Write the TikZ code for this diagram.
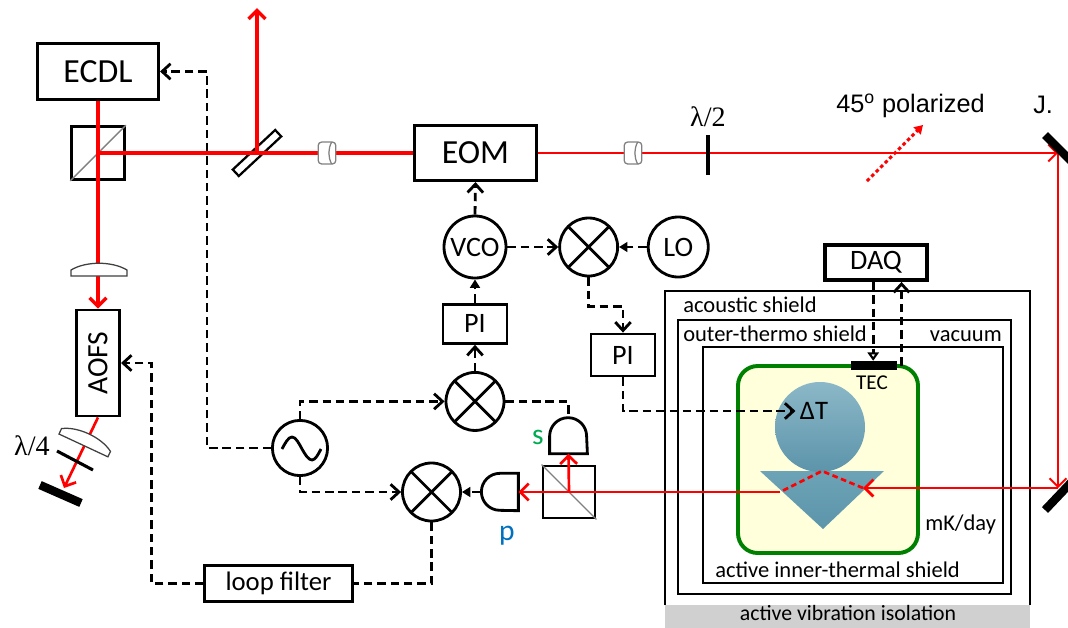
\documentclass[tikz,border=0pt]{standalone}
\usepackage{graphicx}
\usepackage{fontspec}
\setmainfont{Carlito}
\newfontfamily\arialfont{Liberation Sans}
\newfontfamily\timesfont{Liberation Serif}
\usetikzlibrary{arrows.meta}

\definecolor{laser}{RGB}{255,0,0}
\definecolor{shieldgreen}{RGB}{0,128,0}
\definecolor{cavityfill}{RGB}{255,255,220}
\definecolor{steeltop}{RGB}{140,184,200}
\definecolor{steelmid}{RGB}{108,163,182}
\definecolor{steelbot}{RGB}{92,148,170}
\definecolor{padgray}{RGB}{208,208,208}
\definecolor{sgreen}{RGB}{0,170,80}
\definecolor{pblue}{RGB}{0,112,192}

\newcommand{\fsz}[1]{\fontsize{#1}{#1}\selectfont}

\begin{document}
\begin{tikzpicture}[x=0.025cm, y=-0.025cm,
blank/.style={inner sep=0pt},
block/.style={rectangle, draw, line width=2pt, inner sep=0pt, text centered},
disc/.style={circle, draw, line width=2pt, inner sep=0pt},
mixer/.style={disc, minimum size=1.45cm, path picture={
  \draw[line width=2pt] (path picture bounding box.north west) -- (path picture bounding box.south east)
    (path picture bounding box.north east) -- (path picture bounding box.south west);}},
osc/.style={disc, minimum size=1.38cm, path picture={
  \draw[line width=2pt, shift={(path picture bounding box.center)}]
    (-18,1) sin (-8,-11) cos (2,1) sin (12,12) cos (21,1);}},
det/.style={minimum width=0.93cm, minimum height=0.92cm, inner sep=0pt},
cube/.style={rectangle, draw, line width=2pt, inner sep=0pt},
iso/.style={rectangle, rounded corners=2.5pt, draw=gray, line width=0.9pt, fill=white,
  minimum width=0.44cm, minimum height=0.55cm, inner sep=0pt, path picture={
  \draw[gray, line width=0.9pt] ([xshift=-3pt]path picture bounding box.north east)
    to[bend right=25] ([xshift=-3pt]path picture bounding box.south east);}},
beam/.style={draw=laser, line width=2.4pt},
beam-thin/.style={draw=laser, line width=1.3pt},
beam-tip/.style={-{Straight Barb[length=6pt, width=12pt]}},
ctrl/.style={line width=2pt, dash pattern=on 6pt off 3.5pt},
feed/.style={ctrl, -{Straight Barb[length=6pt, width=11pt]}},
feed-solid/.style={ctrl, -{Triangle[length=6pt, width=7pt]}},
mirror/.style={line width=6pt},
lens/.style={draw=black!75, line width=0.9pt, fill=white}
]

\useasboundingbox (0,0) rectangle (1068,627);
\clip (0,0) rectangle (1068,627);

% shields around the cavity
\fill[padgray] (665,605) rectangle (1030,640);
\draw[line width=1.9pt] (665,605) -- (665,291) -- (1030,291) -- (1030,605);
\draw[line width=1.9pt] (678,320) rectangle (1011,594);
\draw[line width=1.9pt] (703,347) rectangle (1003,583);
\draw[shieldgreen, line width=2.8pt, fill=cavityfill, rounded corners=14pt] (738,366) rectangle (918,553);
\shade[top color=steelmid, bottom color=steelbot] (760,471) -- (884,471) -- (823,529) -- cycle;
\shade[top color=steeltop, bottom color=steelbot] (820,427) circle (45);

% blocks
\node[block, minimum width=3.03cm, minimum height=1.38cm] (ecdl) at (98,71.5) {\fsz{24}ECDL};
\node[cube, minimum size=1.32cm] (pbs-in) at (98,153) {};
\node[block, minimum width=1.08cm, minimum height=2.65cm] (aofs) at (98,363) {\rotatebox{90}{\fsz{21}AOFS}};
\node[draw, line width=1.6pt, minimum width=1.45cm, minimum height=0.22cm, inner sep=0pt, rotate=43] (bs-plate) at (257,153) {};
\node[block, minimum width=3.03cm, minimum height=1.38cm] (eom) at (475.5,153) {\fsz{24}EOM};
\node[disc, minimum size=1.55cm] (vco) at (475,247) {\fsz{20}VCO};
\node[block, minimum width=1.6cm, minimum height=0.98cm, node distance=1.92cm, below of=vco] (pi-vco) {\fsz{20}PI};
\node[mixer, node distance=1.94cm, below of=pi-vco] (mix-s) {};
\node[mixer, node distance=2.84cm, right of=vco] (mix-lo) {};
\node[disc, minimum size=1.5cm, node distance=2.24cm, right of=mix-lo] (lo) {\fsz{20}LO};
\node[block, minimum width=1.6cm, minimum height=1.05cm] (pi-temp) at (623,355) {\fsz{20}PI};
\node[osc] (osc) at (300,448) {};
\node[mixer] (mix-p) at (431.5,492) {};
\node[block, minimum width=3.68cm, minimum height=0.88cm] (loop-filter) at (278.5,583.5) {\fsz{19}loop filter};
\node[det] (det-s) at (568.5,435) {};
\node[det] (det-p) at (499.5,492) {};
\node[cube, minimum size=1.3cm] (pbs-out) at (569,492) {};
\node[block, line width=2.6pt, minimum width=2.55cm, minimum height=0.88cm] (daq) at (876,262.5) {\fsz{20}DAQ};
\node[fill, minimum width=1.15cm, minimum height=0.22cm, inner sep=0pt] (tec) at (874,365.5) {};
\node[blank] (dT) at (814,411) {\fsz{19}ΔT};

\draw[gray, line width=1pt] (pbs-in.south west) -- (pbs-in.north east);
\draw[gray, line width=1pt] (pbs-out.north west) -- (pbs-out.south east);
\draw[line width=2pt] (det-s.south west) -- ++(0,-17.5) arc[start angle=180, end angle=360, radius=18.5] -- (det-s.south east) -- cycle;
\draw[line width=2pt] (det-p.north east) -- ++(-18.5,0) arc[start angle=270, end angle=90, radius=18.5] -- (det-p.south east) -- cycle;

% laser path
\coordinate (out-up) at (257,8);
\coordinate (m-top) at (1058,153);
\coordinate (m-bot) at (1058,488);
\coordinate (prism-out) at (863,488);
\coordinate (prism-tip) at (822,471);
\coordinate (prism-in) at (780,492);
\coordinate (m-aofs) at (64,488);

\draw[beam, beam-tip] (ecdl.south) -- (aofs.north);
\draw[beam, line width=2.8pt] (pbs-in.center) -- (eom.west);
\draw[beam, beam-tip] (bs-plate.center) -- (out-up);
\draw[beam-thin, beam-tip] (eom.east) -- (m-top);
\draw[beam-thin, beam-tip] (m-top) -- (m-bot);
\draw[beam, line width=1.9pt, beam-tip] (m-bot) -- (prism-out);
\draw[beam, line width=1.9pt, dash pattern=on 4pt off 2.5pt] (prism-out) -- (prism-tip) -- (prism-in);
\draw[beam, line width=1.9pt, beam-tip] (prism-in) -- (det-p.east);
\draw[beam, line width=1.9pt, beam-tip] (pbs-out.center) -- (det-s.south);
\draw[beam, line width=1.9pt, beam-tip] (aofs.south) -- (m-aofs);

% optics
\node[iso] (iso-a) at (327,153) {};
\node[iso] (iso-b) at (633,153) {};
\draw[lens] (71,276) -- (127,276) -- (127,270) .. controls (112,261) and (86,261) .. (71,270) -- cycle;
\begin{scope}[shift={(86,440)}, rotate=-25]
  \draw[lens] (-27,6) -- (27,6) -- (27,0) .. controls (13,-9) and (-13,-9) .. (-27,0) -- cycle;
\end{scope}
\draw[line width=2.8pt] (708,135) -- (708,175);
\draw[line width=2.2pt] (57,451) -- (93,470);
\draw[mirror] (40,485) -- (81,503);
\draw[mirror] (1045,135) -- (1082,172);
\draw[mirror] (1045,510) -- (1082,471);

% electronics
\draw[feed] (osc.west) -- ++(-64,0) |- (ecdl.east);
\draw[feed] (osc.north) |- (mix-s.west);
\draw[feed] (osc.south) |- (mix-p.west);
\draw[ctrl] (mix-s.east) -| (det-s.north);
\draw[feed] (mix-s.north) -- (pi-vco.south);
\draw[feed-solid] (pi-vco.north) -- (vco.south);
\draw[feed] (vco.north) -- (eom.south);
\draw[feed] (vco.east) -- (mix-lo.west);
\draw[feed-solid] (lo.west) -- (mix-lo.east);
\draw[feed] (mix-lo.south) -- ++(0,29) -| (pi-temp.north);
\draw[feed] (pi-temp.south) |- ([xshift=-3pt]dT.west);
\draw[feed-solid] (det-p.west) -- (mix-p.east);
\draw[ctrl] (mix-p.south) |- (loop-filter.east);
\draw[feed] (loop-filter.west) -- ++(-52,0) |- (aofs.east);
\coordinate (daq-l) at ([xshift=-2pt]daq.south);
\coordinate (tec-r) at ([xshift=3pt]tec.east);
\draw[ctrl, -{Triangle[open, length=6pt, width=8pt]}] (daq-l) -- (daq-l |- tec.north);
\draw[feed] (tec-r) -- (tec-r |- daq.south);

% labels
\node[blank, text=sgreen] (lbl-s) at (538,437) {\fsz{21}s};
\node[blank, text=pblue] (lbl-p) at (507,536) {\fsz{21}p};
\node[blank] (lbl-hwp) at (708,117) {\timesfont\fsz{20}λ/2};
\node[blank] (lbl-qwp) at (32,446) {\timesfont\fsz{20}λ/4};
\node[blank, anchor=base west] (lbl-pol) at (836,112) {\arialfont\fsz{18}45\textsuperscript{o} polarized};
\node[blank, anchor=base west] (lbl-j) at (1033,113) {\arialfont\fsz{18}J.};
\coordinate (pol-a) at (867,181);
\coordinate (pol-b) at (923,125);
\draw[laser, line width=2.2pt, dash pattern=on 2.5pt off 2pt, -{Triangle[length=6pt, width=7pt]}] (pol-a) -- (pol-b);

\node[blank, anchor=base west] (lbl-acoustic) at (683,312) {\fsz{16}acoustic shield};
\node[blank, anchor=base west] (lbl-outer) at (683,341) {\fsz{16}outer-thermo shield};
\node[blank, anchor=base east] (lbl-vacuum) at (1002,341) {\fsz{16}vacuum};
\node[blank, anchor=base west] (lbl-inner) at (715,577) {\fsz{16}active inner-thermal shield};
\node[blank, anchor=base west] (lbl-rate) at (925,530) {\fsz{16}mK/day};
\node[blank, anchor=base] (lbl-tec) at (872,389) {\fsz{15}TEC};
\node[blank, anchor=base] (lbl-isolation) at (848,620) {\fsz{15.5}active vibration isolation};

\end{tikzpicture}
\end{document}
